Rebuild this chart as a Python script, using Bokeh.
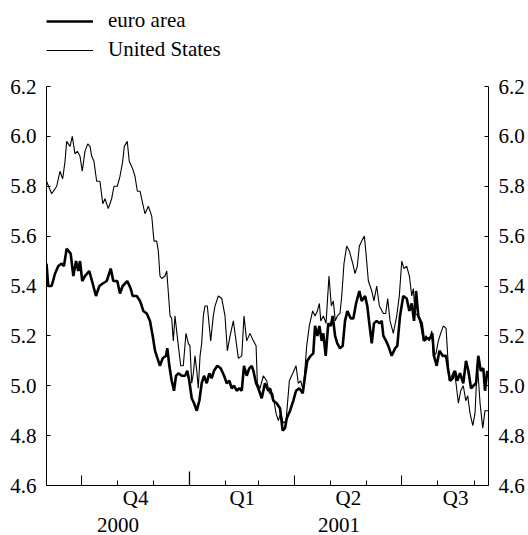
import pandas as pd
from bokeh.plotting import figure
from bokeh.models import (LinearAxis, FixedTicker, Range1d, Legend, LegendItem,
                          PrintfTickFormatter)
from bokeh.embed import file_html
from bokeh.resources import INLINE

# ---------------- data ----------------
start_date = "2000-09-01"      # left edge of the chart
span_days = 377.1              # visible span in days

us_day = [0, 4.4, 8.7, 11.5, 13.8, 15.8, 17.2, 20.1, 22.0, 24.3, 26.3, 28.6, 30.5, 32.8, 35.2,
          37.1, 38.6, 40.5, 42.8, 45.6, 48.0, 49.9, 52.7, 55.6, 57.6, 60.4, 62.7, 65.0, 66.4,
          68.9, 70.6, 73.5, 75.5, 77.5, 79.8, 82.1, 84.0, 86.9, 89.8, 91.7, 94.0, 95.4, 96.8,
          98.3, 101.1, 102.6, 105.4, 106.8, 108.2, 109.6, 112.5, 114.5, 116.7, 119.0, 121.0,
          122.4, 123.9, 125.3, 126.7, 128.2, 129.5, 131.0, 132.4, 133.8, 135.2, 137.2, 140.1,
          142.3, 143.8, 146.6, 149.5, 152.3, 154.3, 156.6, 159.4, 161.7, 163.7, 166.6, 168.5,
          170.8, 173.6, 176.5, 178.8, 179.9, 182.2, 185.0, 187.9, 190.1, 193.0, 195.8, 197.8,
          199.8, 202.0, 204.4, 207.2, 210.1, 212.9, 214.8, 216.9, 219.1, 222.0, 224.2, 227.1,
          229.1, 231.1, 232.8, 234.0, 236.2, 238.5, 241.0, 243.0, 244.7, 246.4, 248.1, 250.4,
          251.9, 253.8, 256.1, 258.4, 261.3, 263.2, 265.2, 266.9, 268.9, 271.2, 272.6, 274.6,
          277.5, 279.4, 281.7, 284.0, 287.4, 289.4, 291.1, 293.1, 295.9, 298.8, 301.0, 303.1,
          305.0, 307.3, 309.6, 311.6, 313.0, 314.4, 317.2, 319.3, 321.5, 323.8, 326.6, 328.7,
          330.0, 332.3, 334.3, 336.3, 338.6, 340.9, 342.3, 343.7, 345.7, 347.7, 349.4, 351.4,
          353.4, 355.6, 357.7, 359.4, 361.3, 363.7, 365.6, 367.6, 369.9, 372.2, 374.1, 376.7]
us_rate = [5.82, 5.77, 5.80, 5.86, 5.83, 5.90, 5.98, 5.96, 6.00, 5.93, 5.94, 5.92, 5.86, 5.94, 5.97,
           5.96, 5.92, 5.90, 5.82, 5.82, 5.73, 5.75, 5.71, 5.75, 5.80, 5.80, 5.84, 5.90, 5.96,
           5.98, 5.90, 5.87, 5.84, 5.78, 5.78, 5.73, 5.69, 5.72, 5.68, 5.58, 5.58, 5.54, 5.44,
           5.43, 5.44, 5.46, 5.28, 5.27, 5.18, 5.28, 5.16, 5.08, 5.08, 5.21, 5.17,
           5.16, 5.01, 5.05, 5.12, 5.06, 4.99, 5.12, 5.17, 5.28, 5.32, 5.32, 5.18,
           5.28, 5.32, 5.36, 5.35, 5.28, 5.14, 5.20, 5.26, 5.18, 5.11, 5.12, 5.28,
           5.18, 5.21, 5.18, 5.16, 5.01, 4.99, 5.04, 5.02, 4.97, 4.97, 4.89, 4.86,
           4.89, 4.85, 4.86, 5.02, 5.05, 5.08, 5.01, 5.02, 4.98, 5.16, 5.24, 5.30,
           5.28, 5.30, 5.33, 5.26, 5.28, 5.25, 5.44, 5.32, 5.34, 5.26, 5.28, 5.29,
           5.36, 5.49, 5.56, 5.54, 5.49, 5.45, 5.48, 5.56, 5.58, 5.60, 5.53, 5.42,
           5.38, 5.34, 5.40, 5.32, 5.29, 5.29, 5.35, 5.26, 5.21, 5.28, 5.36, 5.50,
           5.47, 5.48, 5.44, 5.36, 5.39, 5.29, 5.28, 5.24, 5.18, 5.20, 5.18, 5.22,
           5.12, 5.13, 5.18, 5.21, 5.24, 5.23, 5.12, 5.02, 5.04, 5.06, 5.01, 4.93,
           4.98, 5.00, 4.94, 4.96, 4.89, 4.84, 4.89, 5.09, 4.93, 4.83, 4.90, 4.90]

euro_day = [0, 1.5, 4.4, 7.3, 10.1, 13.0, 14.9, 17.2, 20.6, 22.9, 25.2, 27.1, 28.6, 30.5, 32.8,
            36.5, 39.4, 42.2, 45.1, 48.0, 51.4, 54.8, 57.0, 60.4, 62.7, 65.0, 68.9, 71.8, 73.5,
            77.0, 79.8, 82.6, 85.5, 88.3, 90.6, 92.6, 94.0, 96.8, 99.1, 102.0, 103.1, 104.8,
            106.8, 108.8, 110.5, 112.5, 115.4, 118.2, 120.1, 121.8, 123.9, 125.9, 128.2, 130.4,
            132.4, 134.4, 136.7, 138.9, 140.9, 142.9, 145.7, 148.6, 151.5, 153.8, 156.0, 158.0,
            160.0, 162.3, 164.5, 166.6, 168.5, 170.8, 173.0, 175.1, 176.5, 178.8, 180.7, 183.6,
            186.4, 189.2, 190.7, 193.5, 196.4, 199.2, 201.5, 203.5, 205.0, 207.8, 210.6, 212.9,
            215.7, 218.6, 220.6, 222.5, 225.4, 227.6, 229.1, 231.1, 232.8, 234.8, 236.2, 238.2,
            240.4, 242.5, 244.2, 246.2, 248.1, 250.4, 252.7, 254.7, 256.7, 259.6, 261.8, 264.1,
            266.9, 268.9, 271.8, 273.7, 275.4, 277.5, 279.4, 281.7, 284.0, 286.0, 287.4, 289.7,
            291.6, 294.5, 297.4, 299.3, 301.6, 304.4, 307.3, 309.6, 311.6, 313.6, 315.3, 317.2,
            320.1, 322.1, 324.4, 327.2, 329.2, 330.6, 332.9, 335.2, 338.0, 340.9, 342.8, 344.3,
            346.6, 348.5, 350.5, 352.8, 355.6, 357.9, 359.9, 362.2, 364.2, 366.5, 368.4, 370.5,
            372.7, 374.1, 376.1]
euro_rate = [5.49, 5.40, 5.40, 5.45, 5.48, 5.49, 5.48, 5.55, 5.53, 5.44, 5.50, 5.46, 5.50, 5.42, 5.44,
             5.46, 5.41, 5.36, 5.40, 5.41, 5.42, 5.47, 5.42, 5.42, 5.37, 5.40, 5.42, 5.39, 5.36,
             5.36, 5.34, 5.30, 5.29, 5.26, 5.20, 5.14, 5.12, 5.08, 5.11, 5.12, 5.15, 5.08,
             5.02, 4.98, 5.04, 5.05, 5.04, 5.04, 5.06, 5.02, 4.95, 4.93, 4.90, 4.94,
             5.01, 5.04, 5.01, 5.05, 5.03, 5.06, 5.08, 5.07, 5.04, 5.01, 5.02, 4.99,
             5.00, 4.98, 4.99, 4.98, 5.08, 5.04, 5.07, 5.08, 5.06, 5.01, 4.99, 4.95,
             5.01, 4.98, 4.99, 4.94, 4.93, 4.91, 4.82, 4.83, 4.87, 4.90, 4.94, 4.98,
             4.99, 4.97, 5.04, 5.10, 5.12, 5.13, 5.24, 5.20, 5.24, 5.18, 5.21, 5.12,
             5.25, 5.24, 5.28, 5.20, 5.17, 5.15, 5.16, 5.26, 5.30, 5.27, 5.27, 5.33,
             5.38, 5.34, 5.36, 5.32, 5.25, 5.17, 5.25, 5.26, 5.25, 5.26, 5.20, 5.18,
             5.16, 5.12, 5.15, 5.16, 5.28, 5.36, 5.35, 5.30, 5.33, 5.26, 5.38, 5.28,
             5.25, 5.18, 5.19, 5.19, 5.21, 5.12, 5.08, 5.14, 5.12, 5.12, 5.06, 5.02,
             5.03, 5.06, 5.02, 5.05, 5.01, 5.10, 5.06, 4.99, 5.00, 5.01, 5.12, 5.06,
             5.07, 4.98, 5.06]

y_ticks = [4.6, 4.8, 5.0, 5.2, 5.4, 5.6, 5.8, 6.0, 6.2]
quarter_starts = ["2000-10-01", "2001-01-01", "2001-04-01", "2001-07-01", "2001-10-01"]
quarter_labels = ["Q4", "Q1", "Q2", "Q3"]
year_starts = ["2001-01-01"]
year_labels = ["2000", "2001"]
series_labels = ["euro area", "United States"]

# ---------------- helpers ----------------
EPOCH = pd.Timestamp("1970-01-01")
T0 = pd.Timestamp(start_date)


def ms(ts):
    return (pd.Timestamp(ts) - EPOCH).total_seconds() * 1000.0


def day_ms(d):
    return ms(T0 + pd.Timedelta(days=d))


FONT = "Liberation Serif, Times New Roman, serif"
FS = "21px"

x0 = ms(T0)
x1 = day_ms(span_days)
month_ticks = [ms(t) for t in pd.date_range(T0, T0 + pd.Timedelta(days=span_days), freq="MS")]
q_starts = [ms(t) for t in quarter_starts]
q_mids = [(a + b) / 2 for a, b in zip(q_starts[:-1], q_starts[1:])]
y_bounds = [x0] + [ms(t) for t in year_starts] + [x1]
y_mids = [(a + b) / 2 for a, b in zip(y_bounds[:-1], y_bounds[1:])]

# layout (pixels)
W, H = 528, 535
BL, BR, BT, BB = 46, 40, 0, 50
frame_h = H - BT - BB          # 485
axis_px = 399                  # pixel height of the 4.6..6.2 axis
px_per_unit = axis_px / (y_ticks[-1] - y_ticks[0])
y_top = y_ticks[0] + frame_h / px_per_unit

p = figure(width=W, height=H, output_backend="svg", toolbar_location=None,
           x_range=Range1d(x0, x1), y_range=Range1d(y_ticks[0], y_top),
           x_axis_location=None, y_axis_location=None,
           min_border_left=BL, min_border_right=BR, min_border_top=BT, min_border_bottom=BB)
p.outline_line_color = None
p.xgrid.visible = False
p.ygrid.visible = False
p.background_fill_color = "white"
p.border_fill_color = "white"

r_e = p.line([day_ms(d) for d in euro_day], euro_rate, line_color="black", line_width=2.6)
r_u = p.line([day_ms(d) for d in us_day], us_rate, line_color="black", line_width=1.1)

# year boundary tick (taller)
yr = [ms(t) for t in year_starts]
tick_len = 14 / px_per_unit
p.segment(x0=yr, y0=[y_ticks[0]] * len(yr), x1=yr, y1=[y_ticks[0] + tick_len] * len(yr),
          line_color="black", line_width=1.3)


def style_axis(ax):
    ax.axis_line_color = "black"
    ax.major_tick_line_color = "black"
    ax.minor_tick_line_color = "black"
    ax.major_label_text_font = FONT
    ax.major_label_text_font_size = FS
    ax.major_label_text_color = "black"


for side in ("left", "right"):
    ax = LinearAxis(ticker=FixedTicker(ticks=y_ticks),
                    formatter=PrintfTickFormatter(format="%.1f"),
                    bounds=(y_ticks[0], y_ticks[-1]))
    style_axis(ax)
    ax.major_tick_in = 4
    ax.major_tick_out = 0
    ax.minor_tick_in = 0
    ax.minor_tick_out = 0
    ax.major_label_standoff = 10
    p.add_layout(ax, side)

# bottom axis: quarter ticks (major) and month ticks (minor), no labels
ax1 = LinearAxis(ticker=FixedTicker(ticks=q_starts, minor_ticks=month_ticks))
style_axis(ax1)
ax1.major_tick_in = 10
ax1.major_tick_out = 0
ax1.minor_tick_in = 5
ax1.minor_tick_out = 0
ax1.major_label_text_font_size = "0px"
ax1.major_label_text_alpha = 0
ax1.major_label_standoff = 0
ax1.major_label_overrides = {v: "" for v in q_starts}
p.add_layout(ax1, "below")

# quarter labels
ax2 = LinearAxis(ticker=FixedTicker(ticks=q_mids))
style_axis(ax2)
ax2.axis_line_color = None
ax2.major_tick_line_color = None
ax2.major_tick_in = 0
ax2.major_tick_out = 0
ax2.minor_tick_line_color = None
ax2.major_label_standoff = 0
ax2.major_label_overrides = {v: t for v, t in zip(q_mids, quarter_labels)}
p.add_layout(ax2, "below")

# year labels
ax3 = LinearAxis(ticker=FixedTicker(ticks=y_mids))
style_axis(ax3)
ax3.axis_line_color = None
ax3.major_tick_line_color = None
ax3.major_tick_in = 0
ax3.major_tick_out = 0
ax3.minor_tick_line_color = None
ax3.major_label_standoff = 5
ax3.major_label_overrides = {v: t for v, t in zip(y_mids, year_labels)}
p.add_layout(ax3, "below")

LEG_H = 52
legend = Legend(items=[LegendItem(label=series_labels[0], renderers=[r_e]),
                       LegendItem(label=series_labels[1], renderers=[r_u])],
                location=(0, frame_h - 10 - LEG_H))
legend.border_line_color = None
legend.background_fill_alpha = 0
legend.padding = 0
legend.margin = 0
legend.spacing = 4
legend.label_height = 24
legend.glyph_height = 24
legend.glyph_width = 47
legend.label_standoff = 15
legend.label_text_font = FONT
legend.label_text_font_size = FS
legend.label_text_color = "black"
p.add_layout(legend)

open("out.html", "w").write(file_html(p, INLINE))
